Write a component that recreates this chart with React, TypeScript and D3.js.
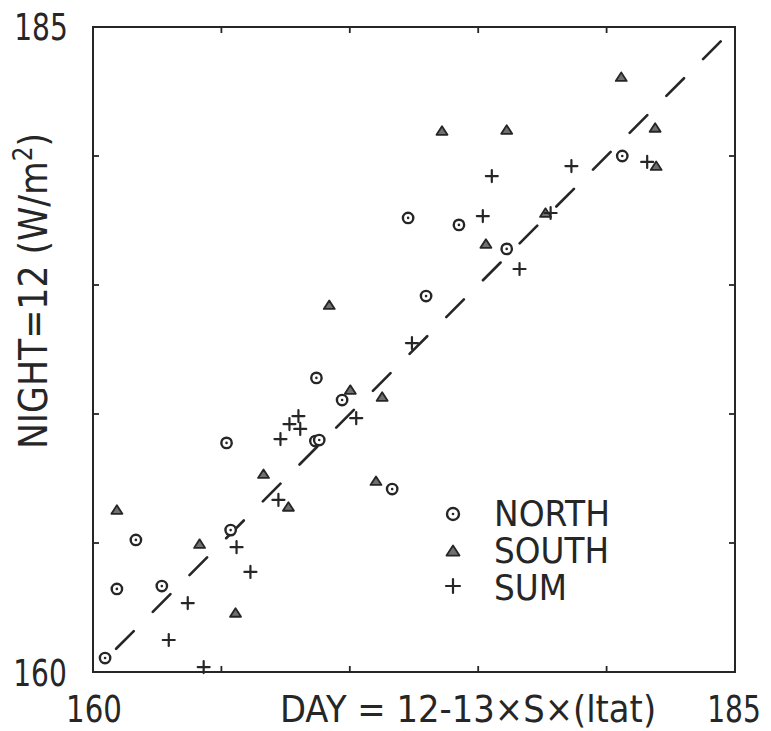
import React from "react";
import * as d3 from "d3";

// Data (x = DAY, y = NIGHT), W/m^2
const northX = [160.47, 160.93, 162.68, 161.67, 165.36, 165.2, 168.66, 168.81, 169.7, 168.7, 171.65, 172.97, 172.27, 174.25, 176.11, 180.61];
const northY = [160.54, 163.22, 163.33, 165.12, 165.5, 168.88, 168.95, 168.99, 170.54, 171.4, 167.09, 174.57, 177.6, 177.33, 176.4, 180.0];

const southX = [165.55, 160.93, 164.15, 166.64, 167.61, 169.2, 170.02, 171.26, 171.02, 173.59, 176.11, 175.3, 177.62, 180.57, 181.89, 181.93];
const southY = [162.29, 166.28, 164.96, 167.67, 166.4, 174.22, 170.93, 170.66, 167.4, 180.97, 181.01, 176.59, 177.79, 183.06, 181.09, 179.61];

const sumX = [164.31, 162.95, 163.69, 165.59, 166.13, 167.22, 167.3, 167.65, 168.0, 168.07, 170.25, 172.42, 175.18, 175.53, 177.82, 176.61, 178.63, 181.58];
const sumY = [160.19, 161.24, 162.67, 164.84, 163.88, 166.67, 169.03, 169.61, 169.92, 169.42, 169.84, 172.75, 177.67, 179.22, 177.79, 175.62, 179.61, 179.77];

const domainMin = 160;
const domainMax = 185;
const innerTicks = [165, 170, 175, 180];
const lineStart = 160.9;
const lineEnd = 184.75;

const legendLabels = ["NORTH", "SOUTH", "SUM"];
const xTitle = "DAY = 12-13×S×(ltat)";

const INK = "#262626";
const FONT = "'DejaVu Sans', sans-serif";

const x = d3.scaleLinear().domain([domainMin, domainMax]).range([93, 735]);
const y = d3.scaleLinear().domain([domainMin, domainMax]).range([672, 27]);

const Circle = ({ cx, cy, r = 5.2 }: { cx: number; cy: number; r?: number }) => (
  <g>
    <circle cx={cx} cy={cy} r={r} fill="white" stroke={INK} strokeWidth={2.4} />
    <circle cx={cx} cy={cy} r={1.3} fill={INK} />
  </g>
);

const Tri = ({ cx, cy, s = 5.5 }: { cx: number; cy: number; s?: number }) => {
  const p = d3.path();
  p.moveTo(cx, cy - s * 0.85);
  p.lineTo(cx + s, cy + s * 0.7);
  p.lineTo(cx - s, cy + s * 0.7);
  p.closePath();
  return <path d={p.toString()} fill="#707070" stroke={INK} strokeWidth={1.8} strokeLinejoin="round" />;
};

const Plus = ({ cx, cy, s = 6 }: { cx: number; cy: number; s?: number }) => (
  <g stroke={INK} strokeWidth={2.2} strokeLinecap="round">
    <line x1={cx - s} x2={cx + s} y1={cy} y2={cy} />
    <line x1={cx} x2={cx} y1={cy - s} y2={cy + s} />
  </g>
);

// Text horizontally compressed to the narrow lettering of the reference
const Label = ({ tx, ty, sx, size, children }: { tx: number; ty: number; sx: number; size: number; children: React.ReactNode }) => (
  <g transform={`translate(${tx},${ty}) scale(${sx},1)`}>
    <text x={0} y={0} textAnchor="middle" fontFamily={FONT} fontSize={size} fill={INK}>
      {children}
    </text>
  </g>
);

export default function App() {
  const [x0, x1] = x.range();
  const [y0, y1] = y.range();
  const tickLen = 6;

  return (
    <svg
      width={771}
      height={731}
      style={{ position: "absolute", left: 0, top: 0, background: "white", display: "block" }}
    >
      <rect x={0} y={0} width={771} height={731} fill="white" />

      {/* frame */}
      <rect x={x0} y={y1} width={x1 - x0} height={y0 - y1} fill="none" stroke={INK} strokeWidth={2} />

      {/* inward ticks */}
      {innerTicks.map((t) => (
        <g key={"t" + t} stroke={INK} strokeWidth={1.8}>
          <line x1={x(t)} x2={x(t)} y1={y0} y2={y0 - tickLen} />
          <line x1={x(t)} x2={x(t)} y1={y1} y2={y1 + tickLen} />
          <line x1={x0} x2={x0 + tickLen} y1={y(t)} y2={y(t)} />
          <line x1={x1} x2={x1 - tickLen} y1={y(t)} y2={y(t)} />
        </g>
      ))}

      {/* dashed 1:1 line */}
      <line
        x1={x(lineStart)}
        y1={y(lineStart)}
        x2={x(lineEnd)}
        y2={y(lineEnd)}
        stroke={INK}
        strokeWidth={2.6}
        strokeDasharray="25 27"
        strokeLinecap="round"
      />

      {/* data */}
      {southX.map((v, i) => (
        <Tri key={"s" + i} cx={x(v)} cy={y(southY[i])} />
      ))}
      {northX.map((v, i) => (
        <Circle key={"n" + i} cx={x(v)} cy={y(northY[i])} />
      ))}
      {sumX.map((v, i) => (
        <Plus key={"p" + i} cx={x(v)} cy={y(sumY[i])} />
      ))}

      {/* tick labels */}
      <Label tx={41} ty={y(domainMax) + 13} sx={0.76} size={37}>{String(domainMax)}</Label>
      <Label tx={40} ty={y(domainMin) + 14} sx={0.76} size={37}>{String(domainMin)}</Label>
      <Label tx={x(domainMin) + 1} ty={722} sx={0.79} size={37}>{String(domainMin)}</Label>
      <Label tx={x(domainMax) - 1} ty={722} sx={0.76} size={37}>{String(domainMax)}</Label>
      <Label tx={468} ty={722} sx={0.915} size={37}>{xTitle}</Label>

      {/* y title */}
      <g transform="translate(47,291) rotate(-90) scale(0.89,1)">
        <text x={0} y={0} textAnchor="middle" fontFamily={FONT} fontSize={39} fill={INK}>
          NIGHT=12 (W/m
          <tspan dy={-15} fontSize={26}>2</tspan>
          <tspan dy={15}>)</tspan>
        </text>
      </g>

      {/* legend */}
      <g>
        <Circle cx={453} cy={514} r={6} />
        <Tri cx={453} cy={551} s={6.5} />
        <Plus cx={453} cy={586} s={7} />
        <g fontFamily={FONT} fontSize={36} fill={INK}>
          {legendLabels.map((l, i) => (
            <text
              key={l}
              x={494}
              y={526 + i * 37}
              textLength={[116, 115, 73][i]}
              lengthAdjust="spacingAndGlyphs"
            >
              {l}
            </text>
          ))}
        </g>
      </g>
    </svg>
  );
}
